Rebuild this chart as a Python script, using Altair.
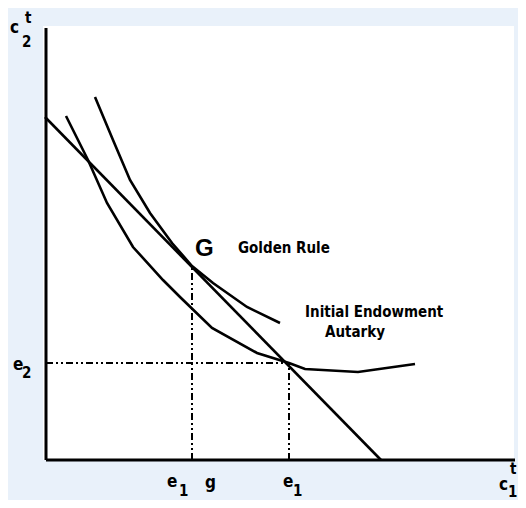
import altair as alt
import pandas as pd

# ---- data (units: consumption, origin at axes corner) ----
budget_c1 = [-0.1, 33.5]
budget_c2 = [34.3, 0.0]

golden_c1 = [4.9, 6.7, 8.4, 10.4, 12.6, 14.6, 16.7, 20.1, 23.4]
golden_c2 = [36.3, 32.0, 28.0, 24.7, 21.7, 19.4, 17.7, 15.3, 13.7]

autarky_c1 = [2.0, 4.2, 6.1, 8.7, 11.7, 13.4, 16.6, 21.1, 24.3, 25.9, 31.2, 36.9]
autarky_c2 = [34.4, 30.0, 25.7, 21.3, 18.0, 16.3, 13.2, 10.7, 9.7, 9.1, 8.8, 9.6]

e1, e2 = 24.3, 9.7          # initial endowment
g1, g2 = 14.6, 19.4         # golden rule point

axis_x_max = 46.9
axis_y_max = 43.2
panel = {"x": -0.3, "x2": 46.8, "y": 0.0, "y2": 43.4}

main_labels = ["c", "e", "e", "g", "e", "c"]
main_x = [-3.6, -3.3, 12.1, 15.9, 23.7, 45.3]
main_y = [42.7, 9.0, -2.7, -2.8, -2.7, -3.0]

idx_labels = ["t", "2", "2", "1", "1", "t", "1"]
idx_x = [-2.1, -2.4, -2.4, 13.3, 24.7, 46.4, 46.2]
idx_y = [43.7, 41.3, 8.2, -3.6, -3.6, -1.4, -3.7]

ann_labels = ["Golden Rule", "Initial Endowment", "Autarky"]
ann_x = [19.2, 25.9, 27.9]
ann_y = [20.7, 14.3, 12.3]

G_label, G_x, G_y = "G", 14.9, 20.4

BG = "#e9f1fa"
COND = "DejaVu Sans Condensed, DejaVu Sans, sans-serif"

xs = alt.Scale(domain=[-3.8, 47.2], nice=False, zero=False)
ys = alt.Scale(domain=[-4.0, 45.2], nice=False, zero=False)

def X(f="c1"):
    return alt.X(f"{f}:Q", scale=xs, axis=None)

def Y(f="c2"):
    return alt.Y(f"{f}:Q", scale=ys, axis=None)

# panel
panel_df = pd.DataFrame([panel])
panel_layer = alt.Chart(panel_df).mark_rect(color="white").encode(
    x=alt.X("x:Q", scale=xs, axis=None), x2="x2:Q",
    y=alt.Y("y:Q", scale=ys, axis=None), y2="y2:Q")

# axes
axes_df = pd.DataFrame({"x": [0.0, 0.0], "x2": [0.0, axis_x_max],
                        "y": [0.0, 0.0], "y2": [axis_y_max, 0.0]})
axes_layer = alt.Chart(axes_df).mark_rule(color="black", strokeWidth=3).encode(
    x=alt.X("x:Q", scale=xs, axis=None), x2="x2:Q",
    y=alt.Y("y:Q", scale=ys, axis=None), y2="y2:Q")

# curves
rows = []
for i, (a, b) in enumerate(zip(budget_c1, budget_c2)):
    rows.append({"curve": "budget", "o": i, "c1": a, "c2": b})
for i, (a, b) in enumerate(zip(golden_c1, golden_c2)):
    rows.append({"curve": "golden", "o": i, "c1": a, "c2": b})
for i, (a, b) in enumerate(zip(autarky_c1, autarky_c2)):
    rows.append({"curve": "autarky", "o": i, "c1": a, "c2": b})
curves_df = pd.DataFrame(rows)
curves_layer = alt.Chart(curves_df).mark_line(color="black", strokeWidth=2.6,
                                              strokeCap="butt").encode(
    x=X(), y=Y(), detail="curve:N", order="o:Q")

# dash-dot guide lines
guides_df = pd.DataFrame({
    "x": [0.0, e1, g1], "x2": [e1, e1, g1],
    "y": [e2, 0.0, 0.0], "y2": [e2, e2, g2]})
guides_layer = alt.Chart(guides_df).mark_rule(
    color="black", strokeWidth=2, strokeDash=[7, 3, 2, 3, 2, 3]).encode(
    x=alt.X("x:Q", scale=xs, axis=None), x2="x2:Q",
    y=alt.Y("y:Q", scale=ys, axis=None), y2="y2:Q")

# texts
main_df = pd.DataFrame({"t": main_labels, "c1": main_x, "c2": main_y})
main_layer = alt.Chart(main_df).mark_text(
    font=COND, fontSize=17, fontWeight="bold", align="left",
    baseline="alphabetic", color="black").encode(x=X(), y=Y(), text="t:N")

idx_df = pd.DataFrame({"t": idx_labels, "c1": idx_x, "c2": idx_y})
idx_layer = alt.Chart(idx_df).mark_text(
    font=COND, fontSize=15, fontWeight="bold", align="left",
    baseline="alphabetic", color="black").encode(x=X(), y=Y(), text="t:N")

ann_df = pd.DataFrame({"t": ann_labels, "c1": ann_x, "c2": ann_y})
ann_layer = alt.Chart(ann_df).mark_text(
    font=COND, fontSize=15, fontWeight="bold", align="left",
    baseline="alphabetic", color="black").encode(x=X(), y=Y(), text="t:N")

G_df = pd.DataFrame({"t": [G_label], "c1": [G_x], "c2": [G_y]})
G_layer = alt.Chart(G_df).mark_text(
    font="Liberation Sans", fontSize=24, fontWeight="bold", align="left",
    baseline="alphabetic", color="black").encode(x=X(), y=Y(), text="t:N")

chart = alt.layer(panel_layer, guides_layer, curves_layer, axes_layer,
                  main_layer, idx_layer, ann_layer, G_layer).properties(
    width=510, height=492,
    autosize=alt.AutoSizeParams(type="none"),
    padding=0,
).configure(background=BG).configure_view(stroke=None)

chart.save("out.html", embed_options={"renderer": "svg", "actions": False})
